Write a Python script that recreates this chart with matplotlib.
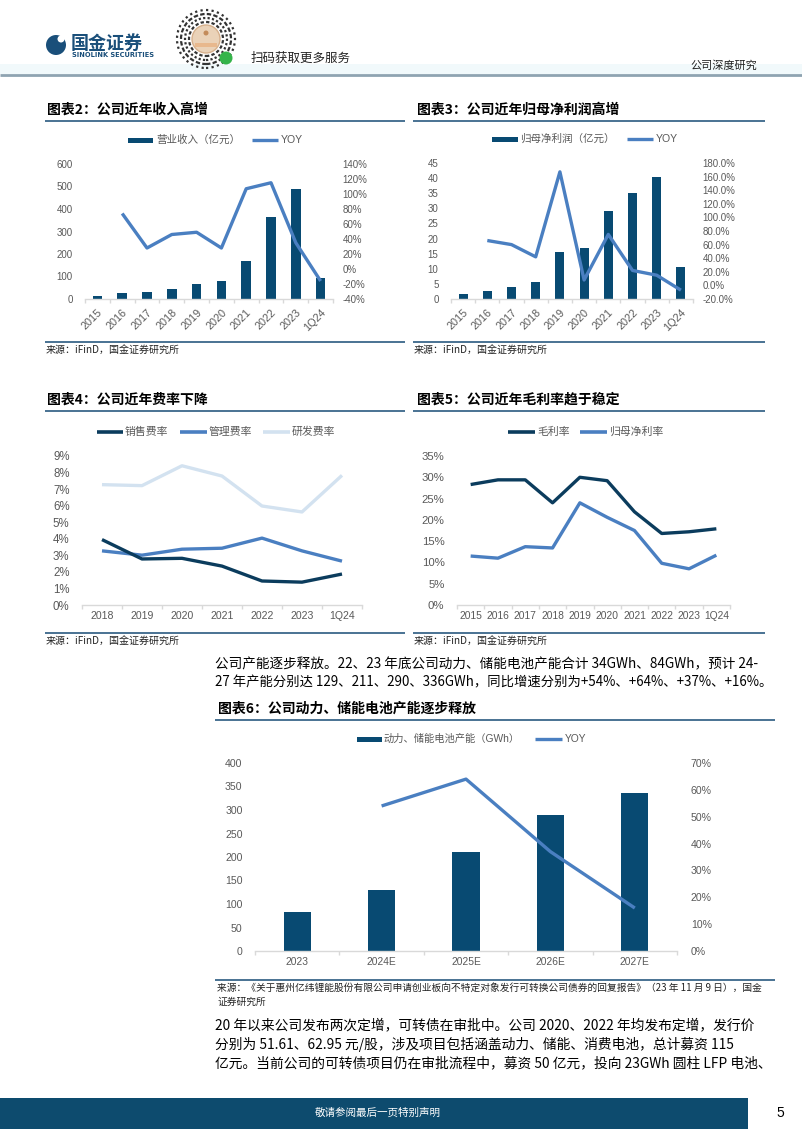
import numpy as np
import matplotlib
matplotlib.use('Agg')
import matplotlib.pyplot as plt
from matplotlib.patches import Rectangle, Circle
from matplotlib.lines import Line2D
from matplotlib.transforms import IdentityTransform

# ---------------- data ----------------
years = ['2015', '2016', '2017', '2018', '2019', '2020', '2021', '2022', '2023', '1Q24']
revenue = [13, 26, 30, 43, 66, 82, 170, 365, 490, 95]
revenue_yoy = [np.nan, 74, 28, 46, 49, 28, 107, 115, 35, -16]
profit = [1.7, 2.6, 4.0, 5.7, 15.4, 16.9, 29.1, 35.1, 40.4, 10.6]
profit_yoy = [np.nan, 66, 60, 42, 167, 8, 75, 22, 15, -7]
fee_years = ['2018', '2019', '2020', '2021', '2022', '2023', '1Q24']
sales_rate = [3.95, 2.78, 2.82, 2.35, 1.45, 1.38, 1.87]
admin_rate = [3.27, 3.01, 3.37, 3.43, 4.04, 3.27, 2.65]
rd_rate = [7.27, 7.21, 8.41, 7.79, 5.98, 5.62, 7.83]
gross_margin = [28.3, 29.4, 29.4, 24.0, 30.0, 29.2, 21.9, 16.8, 17.2, 17.9]
net_margin = [11.5, 11.0, 13.7, 13.4, 24.0, 20.6, 17.5, 9.8, 8.5, 11.7]
cap_years = ['2023', '2024E', '2025E', '2026E', '2027E']
capacity = [84, 129, 211, 290, 336]
capacity_yoy = [np.nan, 54, 64, 37, 16]

# ---------------- style ----------------
W, H = 802, 1133
FAM = ['Liberation Sans', 'Noto Sans CJK SC', 'DejaVu Sans']
TXTFAM = ['Noto Sans CJK SC', 'DejaVu Sans']
plt.rcParams['font.family'] = FAM
BAR_C = '#084a72'
YOY_C = '#4a7fc1'
DARK_C = '#0b3c5d'
MID_C = '#4a7fc1'
LIGHT_C = '#d3e2f0'
TICK_C = '#595959'
AX_C = '#d9d9d9'
RULE_C = '#2a5a80'

fig = plt.figure(figsize=(W / 100, H / 100), dpi=100)


def fx(x):
    return x / W


def fy(y):
    return 1 - y / H


def add_ax(l, t, r, b):
    return fig.add_axes([fx(l), fy(b), (r - l) / W, (b - t) / H])


def txt(x, y, s, size, color='black', ha='left', va='center', family=None, weight='normal'):
    fig.text(fx(x), fy(y), s, fontsize=size, color=color, ha=ha, va=va,
             family=family or FAM, weight=weight)


def hline(x0, x1, y, color, lw, cap='butt'):
    fig.add_artist(Line2D([fx(x0), fx(x1)], [fy(y), fy(y)], color=color, lw=lw,
                          solid_capstyle=cap, transform=fig.transFigure))


def rect(x0, y0, x1, y1, color):
    fig.add_artist(Rectangle((fx(x0), fy(y1)), (x1 - x0) / W, (y1 - y0) / H,
                             facecolor=color, lw=0, transform=fig.transFigure))


def title(x, y, s):
    txt(x, y, s, 10, color='black', family=TXTFAM, weight='bold')


def pix_circle(cx, cy, r, **kw):
    fig.add_artist(Circle((cx, H - cy), r, transform=IdentityTransform(), **kw))


def style_axes(ax, n, xlabsize):
    for s in ['top', 'left', 'right']:
        ax.spines[s].set_visible(False)
    ax.spines['bottom'].set_color(AX_C)
    ax.spines['bottom'].set_linewidth(1)
    ax.set_xlim(-0.5, n - 0.5)
    ax.set_xticks(np.arange(n))
    ax.set_xticks(np.arange(n + 1) - 0.5, minor=True)
    ax.tick_params(axis='x', which='major', length=0, labelsize=xlabsize, labelcolor=TICK_C, pad=4)
    ax.tick_params(axis='x', which='minor', length=3, color=AX_C, width=1)
    ax.tick_params(axis='y', length=0, labelcolor=TICK_C)
    ax.patch.set_visible(False)


def bar_line_chart(box, cats, bars, yoy, ylim, yticks, lfmt, y2lim, y2ticks, rfmt,
                   bar_w, rot, tsize, xsize, lpad, rpad):
    l, t, r, b = box
    ax = add_ax(l, t, r, b)
    n = len(cats)
    x = np.arange(n)
    ax.bar(x, bars, width=bar_w, color=BAR_C, zorder=2)
    style_axes(ax, n, xsize)
    ax.set_ylim(*ylim)
    ax.set_yticks(yticks)
    ax.set_yticklabels([lfmt(v) for v in yticks])
    ax.tick_params(axis='y', labelsize=tsize, pad=lpad)
    if rot:
        ax.set_xticklabels(cats, rotation=rot, ha='right', va='top', rotation_mode='anchor')
        ax.tick_params(axis='x', which='major', pad=6)
    else:
        ax.set_xticklabels(cats)
    ax2 = ax.twinx()
    ax2.plot(x, yoy, color=YOY_C, lw=2.4, solid_capstyle='butt', solid_joinstyle='round', zorder=3)
    ax2.set_ylim(*y2lim)
    ax2.set_yticks(y2ticks)
    ax2.set_yticklabels([rfmt(v) for v in y2ticks])
    ax2.tick_params(axis='y', length=0, labelsize=tsize, labelcolor=TICK_C, pad=rpad)
    for s in ax2.spines.values():
        s.set_visible(False)
    ax2.set_xlim(-0.5, n - 0.5)
    return ax, ax2


# ---------------- header ----------------
rect(0, 64, W, 74, '#f1f9fb')
hline(0, W, 75, '#8ea3b1', 2)
# logo
pix_circle(56, 45, 10, facecolor='#1a4f7a', lw=0)
pix_circle(61, 39, 3.5, facecolor='white', lw=0)
txt(71, 43, '国金证券', 13, color='#1a4f7a', family=TXTFAM, weight='bold')
txt(72, 55, 'SINOLINK SECURITIES', 4.8, color='#1a4f7a', family=['DejaVu Sans'], weight='bold')
# qr-like badge
for rr, ls in [(29, (0, (1, 1.5))), (25, (0, (2, 1))), (21, (0, (1, 1))), (17, (0, (1.5, 1)))]:
    pix_circle(206, 39, rr, facecolor='none', edgecolor='#333333', lw=1.6, linestyle=ls)
pix_circle(206, 39, 14, facecolor='#ead2b8', edgecolor='#d6b08c', lw=1)
pix_circle(206, 33, 2.5, facecolor='#c38b5a', lw=0)
rect(195, 43, 217, 47, '#e8b88d')
pix_circle(226, 58, 6.5, facecolor='#35b44a', lw=0)
txt(251, 58, '扫码获取更多服务', 9, color='#222222', family=TXTFAM)
txt(757, 65, '公司深度研究', 8, color='#222222', ha='right', family=TXTFAM)

# ---------------- chart titles / rules ----------------
title(47, 110, '图表2：公司近年收入高增')
hline(45, 405, 121, RULE_C, 1.2)
title(417, 110, '图表3：公司近年归母净利润高增')
hline(413, 765, 121, RULE_C, 1.2)
title(47, 400, '图表4：公司近年费率下降')
hline(45, 405, 411, RULE_C, 1.2)
title(417, 400, '图表5：公司近年毛利率趋于稳定')
hline(413, 765, 411, RULE_C, 1.2)

for x0, x1, y in [(45, 405, 342), (413, 765, 342), (45, 405, 633), (413, 765, 633)]:
    hline(x0, x1, y, RULE_C, 1.2)
    txt(x0 + 1, y + 9, '来源：iFinD，国金证券研究所', 7.2, color='#222222', family=TXTFAM)

# ---------------- chart 2 ----------------
bar_line_chart((85, 164, 333, 299), years, revenue, revenue_yoy,
               (0, 600), list(range(0, 601, 100)), lambda v: f'{v}',
               (-40, 140), list(range(-40, 141, 20)), lambda v: f'{v}%',
               0.38, 45, 7, 7.8, 9, 7)
rect(128, 137.5, 153, 142.5, BAR_C)
txt(156, 140, '营业收入（亿元）', 7.6, color=TICK_C)
hline(252, 278, 140, YOY_C, 2.4)
txt(281, 140, 'YOY', 7.6, color=TICK_C)

# ---------------- chart 3 ----------------
bar_line_chart((451, 163, 693, 299), years, profit, profit_yoy,
               (0, 45), list(range(0, 46, 5)), lambda v: f'{v}',
               (-20, 180), list(range(-20, 181, 20)), lambda v: f'{v:.1f}%',
               0.37, 45, 7, 7.8, 9, 7)
rect(492, 136.5, 518, 141.5, BAR_C)
txt(520, 139, '归母净利润（亿元）', 7.6, color=TICK_C)
hline(627, 653, 139, YOY_C, 2.4)
txt(656, 139, 'YOY', 7.6, color=TICK_C)

# ---------------- chart 4 ----------------
ax4 = add_ax(82, 456, 362, 605)
x4 = np.arange(len(fee_years))
for vals, c in [(rd_rate, LIGHT_C), (admin_rate, MID_C), (sales_rate, DARK_C)]:
    ax4.plot(x4, vals, color=c, lw=2.4, solid_capstyle='butt', solid_joinstyle='round')
style_axes(ax4, len(fee_years), 7.6)
ax4.set_xticklabels(fee_years)
ax4.set_ylim(0, 9)
ax4.set_yticks(range(0, 10))
ax4.set_yticklabels([f'{v}%' for v in range(0, 10)])
ax4.tick_params(axis='y', labelsize=8.3, pad=9)
for (x0, x1, xt), lab, c in [((97, 123, 125), '销售费率', DARK_C), ((180, 207, 209), '管理费率', MID_C),
                             ((263, 290, 292), '研发费率', LIGHT_C)]:
    hline(x0, x1, 432, c, 2.6)
    txt(xt, 432, lab, 7.8, color=TICK_C)

# ---------------- chart 5 ----------------
ax5 = add_ax(457, 456, 730, 605)
x5 = np.arange(len(years))
ax5.plot(x5, net_margin, color=MID_C, lw=2.4, solid_capstyle='butt', solid_joinstyle='round')
ax5.plot(x5, gross_margin, color=DARK_C, lw=2.4, solid_capstyle='butt', solid_joinstyle='round')
style_axes(ax5, len(years), 7.4)
ax5.set_xticklabels(years)
ax5.set_ylim(0, 35)
ax5.set_yticks(range(0, 36, 5))
ax5.set_yticklabels([f'{v}%' for v in range(0, 36, 5)])
ax5.tick_params(axis='y', labelsize=8.2, pad=9)
for (x0, x1, xt), lab, c in [((508, 535, 537), '毛利率', DARK_C), ((580, 607, 609), '归母净利率', MID_C)]:
    hline(x0, x1, 432, c, 2.6)
    txt(xt, 432, lab, 7.8, color=TICK_C)

# ---------------- paragraph 1 ----------------
txt(215, 664, '公司产能逐步释放。22、23 年底公司动力、储能电池产能合计 34GWh、84GWh，预计 24-', 9.8,
    family=TXTFAM)
txt(215, 682, '27 年产能分别达 129、211、290、336GWh，同比增速分别为+54%、+64%、+37%、+16%。', 9.6,
    family=TXTFAM)

# ---------------- chart 6 ----------------
title(218, 709, '图表6：公司动力、储能电池产能逐步释放')
hline(215, 775, 720, RULE_C, 1.2)
bar_line_chart((255, 763, 677, 951), cap_years, capacity, capacity_yoy,
               (0, 400), list(range(0, 401, 50)), lambda v: f'{v}',
               (0, 70), list(range(0, 71, 10)), lambda v: f'{v}%',
               0.32, 0, 7.6, 7.4, 9, 10)
rect(357, 736.5, 382, 741.5, BAR_C)
txt(384, 739, '动力、储能电池产能（GWh）', 7.4, color=TICK_C)
hline(535, 562, 739, YOY_C, 2.4)
txt(565, 739, 'YOY', 7.4, color=TICK_C)

hline(215, 775, 980, RULE_C, 1.2)
txt(217, 988, '来源：《关于惠州亿纬锂能股份有限公司申请创业板向不特定对象发行可转换公司债券的回复报告》（23 年 11 月 9 日），国金',
    7.0, color='#222222', family=TXTFAM)
txt(217, 1002, '证券研究所', 7.0, color='#222222', family=TXTFAM)

# ---------------- paragraph 2 ----------------
para2 = ['20 年以来公司发布两次定增，可转债在审批中。公司 2020、2022 年均发布定增，发行价',
         '分别为 51.61、62.95 元/股，涉及项目包括涵盖动力、储能、消费电池，总计募资 115',
         '亿元。当前公司的可转债项目仍在审批流程中，募资 50 亿元，投向 23GWh 圆柱 LFP 电池、']
for i, line in enumerate(para2):
    txt(215, 1025 + i * 19, line, 9.9, family=TXTFAM)

# ---------------- footer ----------------
rect(0, 1098, 748, 1129, '#0d4b6e')
txt(315, 1113, '敬请参阅最后一页特别声明', 7.6, color='white', family=TXTFAM)
txt(780, 1113, '5', 10, color='black', ha='center', family=['Liberation Sans'])

fig.savefig('out.png', dpi=100)
